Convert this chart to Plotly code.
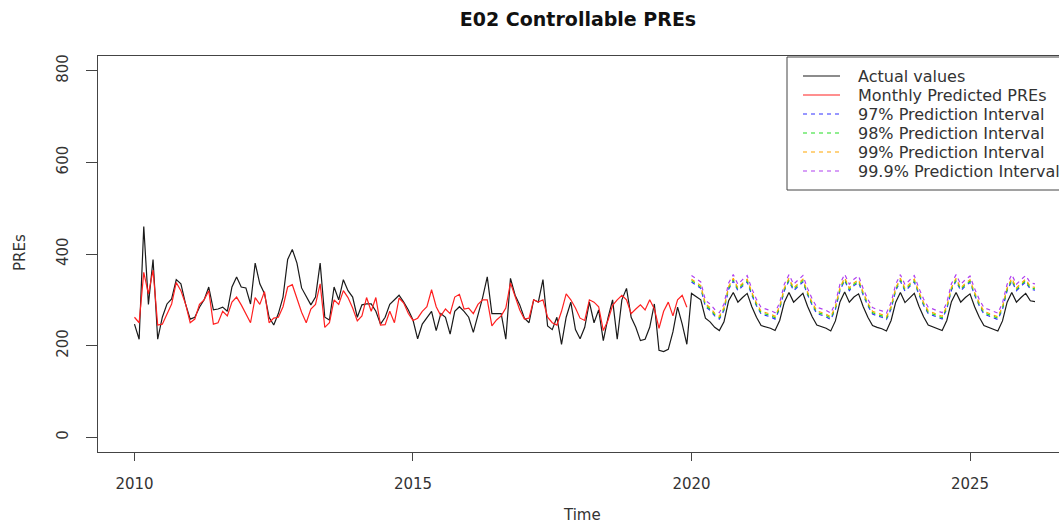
import plotly.graph_objects as go

# ---------------- data ----------------
start_year = 2010
actual_values = [
    247, 214, 460, 290, 388, 214, 262, 291, 302, 344, 335, 291,
    258, 262, 284, 300, 328, 278, 280, 284, 275, 328, 350, 328,
    326, 291, 380, 335, 314, 262, 245, 270, 306, 388, 410, 380,
    326, 306, 289, 306, 380, 262, 256, 328, 300, 344, 320, 306,
    262, 289, 291, 291, 275, 247, 262, 290, 300, 310, 295, 278,
    256, 215, 247, 260, 275, 233, 270, 262, 225, 275, 285, 275,
    262, 229, 265, 305, 350, 270, 270, 270, 214, 347, 310, 289,
    260, 250, 300, 295, 344, 243, 235, 262, 203, 262, 295, 235,
    215, 240, 295, 250, 278, 211, 260, 300, 214, 300, 325, 262,
    240, 211, 214, 240, 291, 190, 187, 192, 230, 284, 247, 203,
]
forecast_values = [
    314, 306, 300, 260, 252, 240, 233, 252, 298, 316, 295, 305,
    314, 285, 262, 244, 241, 238, 233, 255, 295, 316, 295, 305,
    314, 286, 263, 245, 241, 238, 232, 254, 296, 317, 295, 306,
    313, 285, 262, 244, 240, 237, 232, 255, 295, 316, 294, 305,
    314, 286, 263, 245, 241, 238, 233, 255, 296, 316, 295, 305,
    313, 285, 262, 244, 240, 237, 232, 254, 295, 316, 295, 305,
    314, 298, 296,
]
predicted_values = [
    262, 250, 360, 313, 365, 245, 247, 270, 291, 338, 320, 291,
    250, 258, 290, 300, 320, 247, 250, 275, 265, 295, 306, 289,
    268, 250, 305, 290, 318, 250, 260, 262, 285, 328, 333, 305,
    273, 250, 280, 290, 335, 240, 250, 300, 290, 320, 305, 282,
    254, 265, 305, 275, 305, 245, 246, 275, 250, 304, 293, 270,
    255, 260, 275, 285, 322, 285, 265, 280, 270, 306, 312, 280,
    282, 270, 290, 300, 300, 243, 256, 265, 282, 337, 305, 278,
    258, 260, 300, 295, 300, 262, 250, 245, 275, 313, 300, 282,
    260, 255, 300, 295, 285, 233, 255, 288, 300, 310, 300, 270,
    280, 289, 278, 300, 280, 238, 275, 295, 265, 300, 310, 284,
]
pi97_upper = [
    339, 331, 325, 285, 277, 265, 258, 277, 323, 341, 320, 330,
    339, 310, 287, 269, 266, 263, 258, 280, 320, 341, 320, 330,
    339, 311, 288, 270, 266, 263, 257, 279, 321, 342, 320, 331,
    338, 310, 287, 269, 265, 262, 257, 280, 320, 341, 319, 330,
    339, 311, 288, 270, 266, 263, 258, 280, 321, 341, 320, 330,
    338, 310, 287, 269, 265, 262, 257, 279, 320, 341, 320, 330,
    339, 323, 321,
]
pi98_upper = [
    342, 334, 328, 288, 280, 268, 261, 280, 326, 344, 323, 333,
    342, 313, 290, 272, 269, 266, 261, 283, 323, 344, 323, 333,
    342, 314, 291, 273, 269, 266, 260, 282, 324, 345, 323, 334,
    341, 313, 290, 272, 268, 265, 260, 283, 323, 344, 322, 333,
    342, 314, 291, 273, 269, 266, 261, 283, 324, 344, 323, 333,
    341, 313, 290, 272, 268, 265, 260, 282, 323, 344, 323, 333,
    342, 326, 324,
]
pi99_upper = [
    345, 337, 331, 291, 283, 271, 264, 283, 329, 347, 326, 336,
    345, 316, 293, 275, 272, 269, 264, 286, 326, 347, 326, 336,
    345, 317, 294, 276, 272, 269, 263, 285, 327, 348, 326, 337,
    344, 316, 293, 275, 271, 268, 263, 286, 326, 347, 325, 336,
    345, 317, 294, 276, 272, 269, 264, 286, 327, 347, 326, 336,
    344, 316, 293, 275, 271, 268, 263, 285, 326, 347, 326, 336,
    345, 329, 327,
]
pi999_upper = [
    353, 345, 339, 299, 291, 279, 272, 291, 337, 355, 334, 344,
    353, 324, 301, 283, 280, 277, 272, 294, 334, 355, 334, 344,
    353, 325, 302, 284, 280, 277, 271, 293, 335, 356, 334, 345,
    352, 324, 301, 283, 279, 276, 271, 294, 334, 355, 333, 344,
    353, 325, 302, 284, 280, 277, 272, 294, 335, 355, 334, 344,
    352, 324, 301, 283, 279, 276, 271, 293, 334, 355, 334, 344,
    353, 337, 335,
]
x_tick_values = [2010, 2015, 2020, 2025]
y_tick_values = [0, 200, 400, 600, 800]
legend_labels = [
    "Actual values",
    "Monthly Predicted PREs",
    "97% Prediction Interval",
    "98% Prediction Interval",
    "99% Prediction Interval",
    "99.9% Prediction Interval",
]

# ---------------- time index ----------------
black_vals = actual_values + forecast_values
t_all = [start_year + k / 12 for k in range(len(black_vals))]
t_hist = t_all[: len(predicted_values)]
t_fc = t_all[len(actual_values):]

FONT = "DejaVu Sans"
TXT = "#333333"
colors = ["#1a1a1a", "#ff2020", "#3030ff", "#22dd22", "#ffa500", "#b040f0"]
dashes = ["solid", "solid", "4px,4px", "4px,4px", "4px,4px", "4px,4px"]

fig = go.Figure()
fig.add_trace(go.Scatter(x=t_all, y=black_vals, mode="lines",
                         line=dict(color=colors[0], width=1.2), showlegend=False))
fig.add_trace(go.Scatter(x=t_hist, y=predicted_values, mode="lines",
                         line=dict(color=colors[1], width=1.2), showlegend=False))
for vals, c, d in zip([pi97_upper, pi98_upper, pi99_upper, pi999_upper], colors[2:], dashes[2:]):
    fig.add_trace(go.Scatter(x=t_fc, y=vals, mode="lines",
                             line=dict(color=c, width=1.2, dash=d), showlegend=False))

# plot area geometry (pixels)
W, H = 1059, 525
L, R, T, B = 98, 0, 56, 73
pw = W - L - R
ph = H - T - B


def px_x(p):
    return (p - L) / pw


def px_y(p):
    return (H - B - p) / ph


shapes = []
annotations = []
# manual legend box (cut off at right edge like the reference)
shapes.append(dict(type="rect", xref="paper", yref="paper",
                   x0=px_x(787), x1=px_x(1075), y0=px_y(190), y1=px_y(57),
                   line=dict(color="#444444", width=1), fillcolor="white", layer="above"))
row_y = [76, 95, 114, 133, 152, 171]
for lab, c, d, ry in zip(legend_labels, colors, dashes, row_y):
    shapes.append(dict(type="line", xref="paper", yref="paper",
                       x0=px_x(803), x1=px_x(840), y0=px_y(ry), y1=px_y(ry),
                       line=dict(color=c, width=1.2, dash=d), layer="above"))
    annotations.append(dict(text=lab, xref="paper", yref="paper",
                            x=px_x(856), y=px_y(ry), xanchor="left", yanchor="middle",
                            showarrow=False, font=dict(family=FONT, size=16, color=TXT)))

annotations.append(dict(text="PREs", xref="paper", yref="paper", x=px_x(20), y=px_y(253),
                        xanchor="center", yanchor="middle", textangle=-90, showarrow=False,
                        font=dict(family=FONT, size=15, color=TXT)))
annotations.append(dict(text="Time", xref="paper", yref="paper", x=px_x(582), y=px_y(515),
                        xanchor="center", yanchor="middle", showarrow=False,
                        font=dict(family=FONT, size=15, color=TXT)))

fig.update_layout(
    width=W, height=H,
    margin=dict(l=L, r=R, t=T, b=B, pad=0),
    plot_bgcolor="white", paper_bgcolor="white",
    showlegend=False,
    title=dict(text="<b>E02 Controllable PREs</b>", x=578 / W, xanchor="center",
               y=1 - 19 / H, yanchor="middle",
               font=dict(family=FONT, size=19, color="#111111")),
    shapes=shapes, annotations=annotations,
    xaxis=dict(range=[2009.345, 2010 + (1059 - 134.5) / 55.7], tickvals=x_tick_values,
               ticktext=[str(v) for v in x_tick_values],
               showgrid=False, zeroline=False, showline=True, mirror=True,
               linecolor="#444444", linewidth=1, ticks="outside", ticklen=8,
               tickcolor="#444444", ticklabelstandoff=10,
               tickfont=dict(family=FONT, size=15, color=TXT)),
    yaxis=dict(range=[-32, 832], tickvals=y_tick_values,
               ticktext=[str(v) for v in y_tick_values],
               showgrid=False, zeroline=False, showline=True, mirror=False,
               linecolor="#444444", linewidth=1, ticks="outside", ticklen=11,
               tickcolor="#444444", tickangle=-90, ticklabelstandoff=12,
               tickfont=dict(family=FONT, size=15, color=TXT)),
)

fig.write_html("out.html")
